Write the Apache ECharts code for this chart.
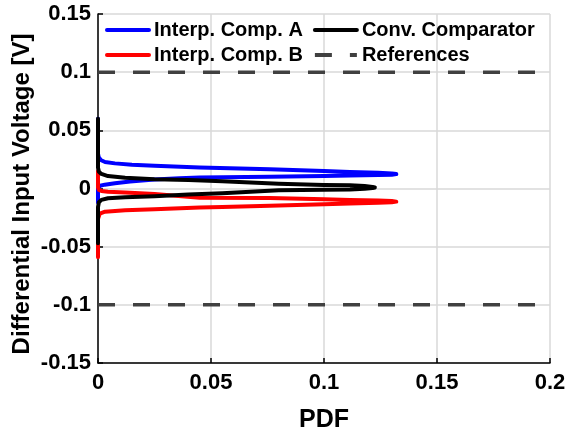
<!DOCTYPE html>
<html>
<head>
<meta charset="utf-8">
<script src="https://cdn.jsdelivr.net/npm/echarts@6/dist/echarts.min.js"></script>
<style>
html,body{margin:0;padding:0;background:#fff;}
#c{width:567px;height:434px;}
</style>
</head>
<body>
<div id="c"></div>
<script>
// Tick values
const xTicks = [0, 0.05, 0.1, 0.15, 0.2];
const yTicks = [-0.15, -0.1, -0.05, 0, 0.05, 0.1, 0.15];

// Axis titles
const xTitle = 'PDF';
const yTitle = 'Differential Input Voltage [V]';

// Interp. Comp. A (blue): PDF values and differential input voltage, traced top to bottom
const compAPdf  = [0, 0, 0.0003, 0.0012, 0.0031, 0.0075, 0.015, 0.025, 0.045, 0.076, 0.1, 0.1115, 0.124, 0.130, 0.132,
                   0.130, 0.124, 0.1115, 0.1, 0.076, 0.045, 0.036, 0.025, 0.0142, 0.0075, 0.003, 0.001, 0.0002, 0, 0];
const compAVolt = [0.060, 0.030, 0.027, 0.0245, 0.0228, 0.0216, 0.0205, 0.0196, 0.0180, 0.0165, 0.0150, 0.0142, 0.0135, 0.0130, 0.0124,
                   0.0118, 0.0115, 0.0112, 0.0107, 0.0101, 0.0095, 0.0088, 0.0077, 0.0060, 0.0046, 0.0033, 0.0024, 0.0015, 0.0005, -0.012];

// Interp. Comp. B (red)
const compBPdf  = [0, 0, 0.0004, 0.0015, 0.0044, 0.012, 0.025, 0.045, 0.076, 0.1, 0.1115, 0.124, 0.130, 0.132,
                   0.130, 0.124, 0.1115, 0.1, 0.076, 0.055, 0.045, 0.025, 0.012, 0.0031, 0.0008, 0.0002, 0, 0];
const compBVolt = [0.015, 0.001, -0.0012, -0.0022, -0.0028, -0.0035, -0.0047, -0.0080, -0.0082, -0.0092, -0.0099, -0.0104, -0.0108, -0.0113,
                   -0.0119, -0.0123, -0.0130, -0.0136, -0.0148, -0.0158, -0.0163, -0.0178, -0.0188, -0.0199, -0.0215, -0.0230, -0.026, -0.059];

// Conv. Comparator (black)
const convPdf  = [0, 0, 0.0004, 0.0015, 0.0044, 0.012, 0.025, 0.040, 0.055, 0.08, 0.1, 0.1115, 0.118, 0.1215, 0.1225,
                  0.1215, 0.118, 0.1115, 0.1, 0.08, 0.055, 0.040, 0.025, 0.012, 0.0044, 0.0015, 0.0004, 0, 0];
const convVolt = [0.060, 0.018, 0.0144, 0.0125, 0.0107, 0.0092, 0.0080, 0.0073, 0.0062, 0.0041, 0.0031, 0.0027, 0.0021, 0.0014, 0.0009,
                  0.0004, -0.0002, -0.0008, -0.0011, -0.0016, -0.0040, -0.0052, -0.0066, -0.0075, -0.0084, -0.0098, -0.0118, -0.016, -0.047];

// References
const refPdf = [0, 0.2];
const refHigh = [0.1, 0.1];
const refLow = [-0.1, -0.1];

const zip = (xs, ys) => xs.map((x, i) => [x, ys[i]]);

const FONT = "'Liberation Sans', Arial, Helvetica, sans-serif";
const chart = echarts.init(document.getElementById('c'), null, {renderer: 'canvas'});

const curve = (name, color, xs, ys) => ({
  name: name, type: 'line', data: zip(xs, ys), symbol: 'none', showSymbol: false, smooth: false,
  lineStyle: {color: color, width: 4, cap: 'round', join: 'round'},
  itemStyle: {color: color}, animation: false, z: 3
});
const refLine = (ys) => ({
  name: 'References', type: 'line', data: zip(refPdf, ys), symbol: 'none', showSymbol: false,
  lineStyle: {color: '#404040', width: 3.5, type: [17, 18]},
  itemStyle: {color: '#404040'}, animation: false, z: 2
});

const legendCommon = {
  orient: 'horizontal', left: 105, itemWidth: 42, itemHeight: 14, itemGap: 10,
  textStyle: {fontFamily: FONT, fontWeight: 'bold', fontSize: 20, color: '#000'},
  lineStyle: {width: 4},
  itemStyle: {opacity: 0},
  padding: 0, selectedMode: false
};

chart.setOption({
  animation: false,
  backgroundColor: '#fff',
  grid: {left: 98, right: 17, top: 14, bottom: 71, containLabel: false, outerBoundsMode: 'none'},
  legend: [
    Object.assign({}, legendCommon, {top: 20, data: ['Interp. Comp. A', 'Conv. Comparator']}),
    Object.assign({}, legendCommon, {top: 45, data: ['Interp. Comp. B', 'References']})
  ],
  graphic: [{
    type: 'text', x: 22, y: 194, rotation: Math.PI / 2, silent: true,
    style: {text: yTitle, fontFamily: FONT, fontWeight: 'bold', fontSize: 24, fill: '#000',
            align: 'center', verticalAlign: 'middle'}
  }],
  xAxis: {
    type: 'value', min: xTicks[0], max: xTicks[xTicks.length - 1], interval: 0.05,
    name: xTitle, nameLocation: 'middle', nameGap: 45,
    nameTextStyle: {fontFamily: FONT, fontWeight: 'bold', fontSize: 25, color: '#000'},
    axisLine: {show: true, onZero: false, lineStyle: {color: '#000', width: 1.5}},
    axisTick: {show: true, inside: true, length: 5, lineStyle: {color: '#000', width: 1.5}},
    axisLabel: {fontFamily: FONT, fontWeight: 'bold', fontSize: 22, color: '#000', margin: 9},
    splitLine: {show: true, lineStyle: {color: '#d9d9d9', width: 1.5}}
  },
  yAxis: {
    type: 'value', min: yTicks[0], max: yTicks[yTicks.length - 1], interval: 0.05,
    axisLine: {show: true, onZero: false, lineStyle: {color: '#000', width: 1.5}},
    axisTick: {show: true, inside: true, length: 5, lineStyle: {color: '#000', width: 1.5}},
    axisLabel: {fontFamily: FONT, fontWeight: 'bold', fontSize: 22, color: '#000', margin: 7},
    splitLine: {show: true, lineStyle: {color: '#d9d9d9', width: 1.5}}
  },
  series: [
    refLine(refHigh),
    refLine(refLow),
    curve('Interp. Comp. A', '#0000ff', compAPdf, compAVolt),
    curve('Interp. Comp. B', '#ff0000', compBPdf, compBVolt),
    curve('Conv. Comparator', '#000000', convPdf, convVolt)
  ]
});
</script>
</body>
</html>
